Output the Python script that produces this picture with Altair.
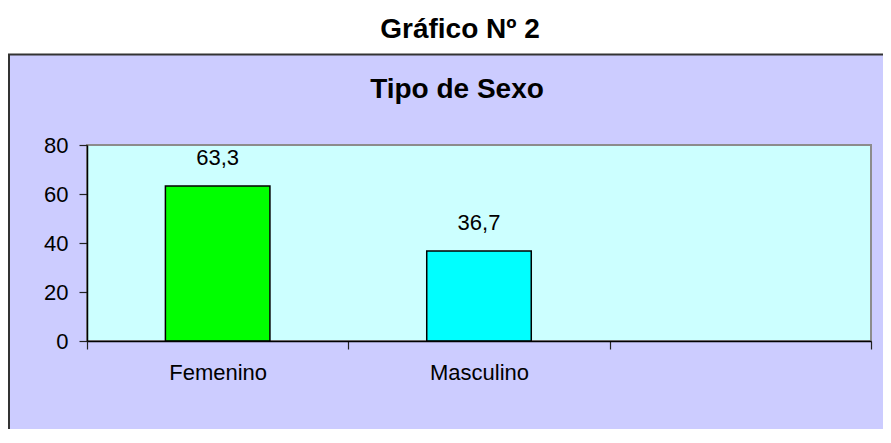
import altair as alt
import pandas as pd

# ---- data ----
categorias = ["Femenino", "Masculino"]
porcentajes = [63.3, 36.7]
colores = ["#00FF00", "#00FFFF"]
dominio_x = ["Femenino", "Masculino", " "]
ticks_y = [0, 20, 40, 60, 80]
titulo = "Gráfico Nº 2"
subtitulo = "Tipo de Sexo"

W, H = 784, 196
FONT = "Liberation Sans"
FS = 22
TFS = 28

df = pd.DataFrame({"Sexo": categorias, "Porcentaje": porcentajes, "Color": colores})
uno = pd.DataFrame({"t": [titulo], "s": [subtitulo]})

x_enc = alt.X(
    "Sexo:N",
    scale=alt.Scale(domain=dominio_x, paddingInner=0, paddingOuter=0),
    axis=alt.Axis(
        title=None, labelAngle=0, tickBand="extent", tickSize=8, labelPadding=13,
        labelFontSize=FS, labelFont=FONT, labelColor="black", domainColor="black",
        tickColor="#222222", domainWidth=1.5, tickWidth=1.2, zindex=1, grid=False,
    ),
)
y_enc = alt.Y(
    "Porcentaje:Q",
    scale=alt.Scale(domain=[0, 80], nice=False),
    axis=alt.Axis(
        values=ticks_y, title=None, grid=False, tickSize=8, labelPadding=11,
        labelFontSize=FS, labelFont=FONT, labelColor="black", domainColor="black",
        tickColor="#222222", domainWidth=1.5, tickWidth=1.2, zindex=1,
    ),
)

fondo = alt.Chart(uno).mark_rect(fill="#CCCCFF", stroke="#333333", strokeWidth=2).encode(
    x=alt.value(-78), x2=alt.value(W + 200), y=alt.value(-90.5), y2=alt.value(H + 300)
)
area = alt.Chart(uno).mark_rect(fill="#CCFFFF", stroke="#8C8C8C", strokeWidth=2).encode(
    x=alt.value(0), x2=alt.value(W), y=alt.value(0), y2=alt.value(H)
)

base = alt.Chart(df).encode(x=x_enc, y=y_enc)
barras = base.mark_bar(width=alt.RelativeBandSize(0.4), stroke="black", strokeWidth=1.5).encode(
    color=alt.Color("Color:N", scale=None)
)
etiquetas = base.transform_calculate(
    lab="replace(format(datum.Porcentaje, '.1f'), '.', ',')"
).mark_text(dy=-21, baseline="alphabetic", fontSize=FS, font=FONT, color="black").encode(
    text="lab:N"
)

t1 = alt.Chart(uno).mark_text(fontSize=TFS, fontWeight="bold", font=FONT, baseline="alphabetic",
                               align="center", color="black").encode(
    x=alt.value(373), y=alt.value(-106.7), text="t:N"
)
t2 = alt.Chart(uno).mark_text(fontSize=TFS, fontWeight="bold", font=FONT, baseline="alphabetic",
                               align="center", color="black").encode(
    x=alt.value(370), y=alt.value(-47.3), text="s:N"
)

chart = alt.layer(fondo, area, barras, etiquetas, t1, t2).properties(
    width=W, height=H,
    autosize=alt.AutoSizeParams(type="none"),
    padding={"left": 79, "top": 137, "right": 12, "bottom": 88},
    background="white",
).configure_view(stroke=None)

chart.save("out.html", embed_options={"renderer": "svg", "actions": False})
